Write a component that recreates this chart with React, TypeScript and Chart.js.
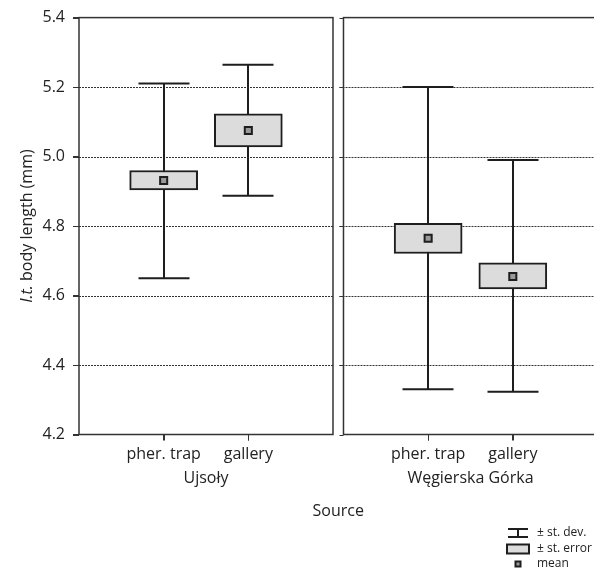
import React, { useEffect, useRef } from 'react';
import { Chart, registerables } from 'chart.js';

Chart.register(...registerables);

// ---- data ----
const sites = ['Ujsoły', 'Węgierska Górka'];
const sources = ['pher. trap', 'gallery'];
const sdHigh = [5.21, 5.264, 5.2, 4.99];
const sdLow = [4.65, 4.887, 4.33, 4.323];
const seHigh = [4.96, 5.123, 4.808, 4.694];
const seLow = [4.904, 5.028, 4.721, 4.619];
const means = [4.931, 5.075, 4.765, 4.655];
const yTicks = [4.2, 4.4, 4.6, 4.8, 5.0, 5.2, 5.4];
const gridValues = [4.4, 4.6, 4.8, 5.0, 5.2];
const legendLabels = ['± st. dev.', '± st. error', 'mean'];

// ---- layout constants ----
const FONT = '"Open Sans", "Noto Sans", sans-serif';
const PANEL = 3;
const GAP = 0.124;
const XMAX = 6.083;
const xPos = (i: number) => Math.floor(i / 2) * (PANEL + GAP) + (i % 2) + 1;
const INK = '#1e1e1e';

export default function App() {
  const ref = useRef<HTMLCanvasElement>(null);

  useEffect(() => {
    const canvas = ref.current!;

    const decor = {
      id: 'decor',
      beforeDatasetsDraw(chart: any) {
        const { ctx, chartArea, scales } = chart;
        const x = scales.x, y = scales.y;
        ctx.save();
        // dotted grid lines
        ctx.setLineDash([2, 1]);
        ctx.strokeStyle = '#333';
        ctx.lineWidth = 1;
        for (const v of gridValues) {
          const py = Math.round(y.getPixelForValue(v)) + 0.5;
          ctx.beginPath();
          ctx.moveTo(x.getPixelForValue(0), py);
          ctx.lineTo(x.getPixelForValue(PANEL), py);
          ctx.moveTo(x.getPixelForValue(PANEL + GAP) - 4, py);
          ctx.lineTo(chartArea.right, py);
          ctx.stroke();
        }
        ctx.setLineDash([]);
        // whiskers (± st. dev.)
        ctx.strokeStyle = INK;
        ctx.lineWidth = 2;
        for (let i = 0; i < sdHigh.length; i++) {
          const px = Math.round(x.getPixelForValue(xPos(i)));
          const top = y.getPixelForValue(sdHigh[i]);
          const bot = y.getPixelForValue(sdLow[i]);
          ctx.beginPath();
          ctx.moveTo(px, top);
          ctx.lineTo(px, bot);
          ctx.moveTo(px - 25.5, top);
          ctx.lineTo(px + 25.5, top);
          ctx.moveTo(px - 25.5, bot);
          ctx.lineTo(px + 25.5, bot);
          ctx.stroke();
        }
        ctx.restore();
      },
      afterDraw(chart: any) {
        const { ctx, chartArea, scales } = chart;
        const x = scales.x, y = scales.y;
        const top = chartArea.top, bottom = chartArea.bottom;
        ctx.save();
        // panel frames
        ctx.strokeStyle = '#333';
        ctx.lineWidth = 1.5;
        const l0 = x.getPixelForValue(0);
        const l1 = x.getPixelForValue(PANEL);
        ctx.strokeRect(l0, top, l1 - l0, bottom - top);
        const r0 = x.getPixelForValue(PANEL + GAP);
        const r1 = x.getPixelForValue(2 * PANEL + GAP);
        ctx.strokeRect(r0, top, r1 - r0, bottom - top);
        // y ticks on both panels
        ctx.lineWidth = 1;
        for (const v of yTicks) {
          const py = Math.round(y.getPixelForValue(v)) + 0.5;
          ctx.beginPath();
          ctx.moveTo(r0 - 4, py);
          ctx.lineTo(r0, py);
          ctx.moveTo(l0 - 6, py);
          ctx.lineTo(l0, py);
          ctx.stroke();
        }
        // x ticks below axis
        for (let i = 0; i < sdHigh.length; i++) {
          const px = Math.round(x.getPixelForValue(xPos(i))) + 0.5;
          ctx.beginPath();
          ctx.moveTo(px, bottom);
          ctx.lineTo(px, bottom + 6);
          ctx.stroke();
        }
        // group labels
        ctx.fillStyle = '#222';
        ctx.font = `16px ${FONT}`;
        ctx.textAlign = 'center';
        ctx.textBaseline = 'middle';
        sites.forEach((s, g) => {
          const cx = x.getPixelForValue(g * (PANEL + GAP) + PANEL / 2);
          ctx.fillText(s, cx, 478);
        });
        ctx.fillText('Source', x.getPixelForValue((2 * PANEL + GAP) / 2), 511);
        // y title
        ctx.save();
        ctx.translate(27, (top + bottom) / 2);
        ctx.rotate(-Math.PI / 2);
        const italic = `italic 16px ${FONT}`;
        const normal = `16px ${FONT}`;
        const p1 = 'I.t.';
        const p2 = ' body length (mm)';
        ctx.font = italic;
        const w1 = ctx.measureText(p1).width;
        ctx.font = normal;
        const w2 = ctx.measureText(p2).width;
        const sx = -(w1 + w2) / 2;
        ctx.textAlign = 'left';
        ctx.font = italic;
        ctx.fillText(p1, sx, 0);
        ctx.font = normal;
        ctx.fillText(p2, sx + w1, 0);
        ctx.restore();
        // legend
        const lx = 518;
        const rows = [533, 549, 564];
        ctx.strokeStyle = INK;
        ctx.lineWidth = 2;
        ctx.beginPath();
        ctx.moveTo(lx - 10, rows[0] - 4);
        ctx.lineTo(lx + 10, rows[0] - 4);
        ctx.moveTo(lx, rows[0] - 4);
        ctx.lineTo(lx, rows[0] + 4);
        ctx.moveTo(lx - 10, rows[0] + 4);
        ctx.lineTo(lx + 10, rows[0] + 4);
        ctx.stroke();
        ctx.fillStyle = '#dcdcdc';
        ctx.fillRect(lx - 11, rows[1] - 4.5, 22, 9);
        ctx.strokeRect(lx - 11, rows[1] - 4.5, 22, 9);
        ctx.fillStyle = '#9a9a9a';
        ctx.fillRect(lx - 2.5, rows[2] - 2.5, 5, 5);
        ctx.strokeRect(lx - 2.5, rows[2] - 2.5, 5, 5);
        ctx.fillStyle = '#222';
        ctx.font = `12px ${FONT}`;
        ctx.textAlign = 'left';
        ctx.textBaseline = 'middle';
        legendLabels.forEach((t, i) => ctx.fillText(t, 537, rows[i]));
        ctx.restore();
      },
    };

    const chart = new Chart(canvas, {
      type: 'bar',
      data: {
        datasets: [
          {
            type: 'scatter',
            label: 'mean',
            data: means.map((m, i) => ({ x: xPos(i), y: m })),
            pointStyle: 'rect',
            radius: 5,
            backgroundColor: '#9a9a9a',
            borderColor: INK,
            borderWidth: 2,
            order: 1,
          } as any,
          {
            type: 'bar',
            label: '± st. error',
            data: seLow.map((lo, i) => ({ x: xPos(i), y: [lo, seHigh[i]] })),
            backgroundColor: '#dcdcdc',
            borderColor: INK,
            borderWidth: 2,
            borderSkipped: false,
            barThickness: 68,
            order: 2,
          } as any,
        ],
      },
      options: {
        animation: false,
        responsive: false,
        layout: { autoPadding: false, padding: { top: 17.5, right: 0, left: 0, bottom: 0 } },
        plugins: { legend: { display: false }, tooltip: { enabled: false } },
        scales: {
          x: {
            type: 'linear',
            min: 0,
            max: XMAX,
            offset: false,
            afterBuildTicks: (s: any) => {
              s.ticks = sdHigh.map((_, i) => ({ value: xPos(i) }));
            },
            afterFit: (s: any) => {
              s.height = 138.5;
            },
            ticks: {
              callback: (_v: any, i: number) => sources[i % 2],
              autoSkip: false,
              maxRotation: 0,
              font: { family: FONT, size: 16 },
              color: '#222',
              padding: 4,
            },
            grid: { offset: false, drawOnChartArea: false, tickLength: 6, color: '#333', lineWidth: 1 },
            border: { display: false },
          },
          y: {
            min: 4.2,
            max: 5.4,
            afterBuildTicks: (s: any) => {
              s.ticks = yTicks.map((v) => ({ value: v }));
            },
            afterFit: (s: any) => {
              s.width = 79;
            },
            ticks: {
              callback: (v: any) => Number(v).toFixed(1),
              font: { family: FONT, size: 16 },
              color: '#222',
              padding: 8,
            },
            grid: { drawOnChartArea: false, tickLength: 6, color: '#333', lineWidth: 1 },
            border: { display: false },
          },
        },
      } as any,
      plugins: [decor],
    });

    return () => chart.destroy();
  }, []);

  return (
    <div style={{ position: 'absolute', left: 0, top: 0, width: 594, height: 573, background: '#fff' }}>
      <canvas ref={ref} width={594} height={573} />
    </div>
  );
}
